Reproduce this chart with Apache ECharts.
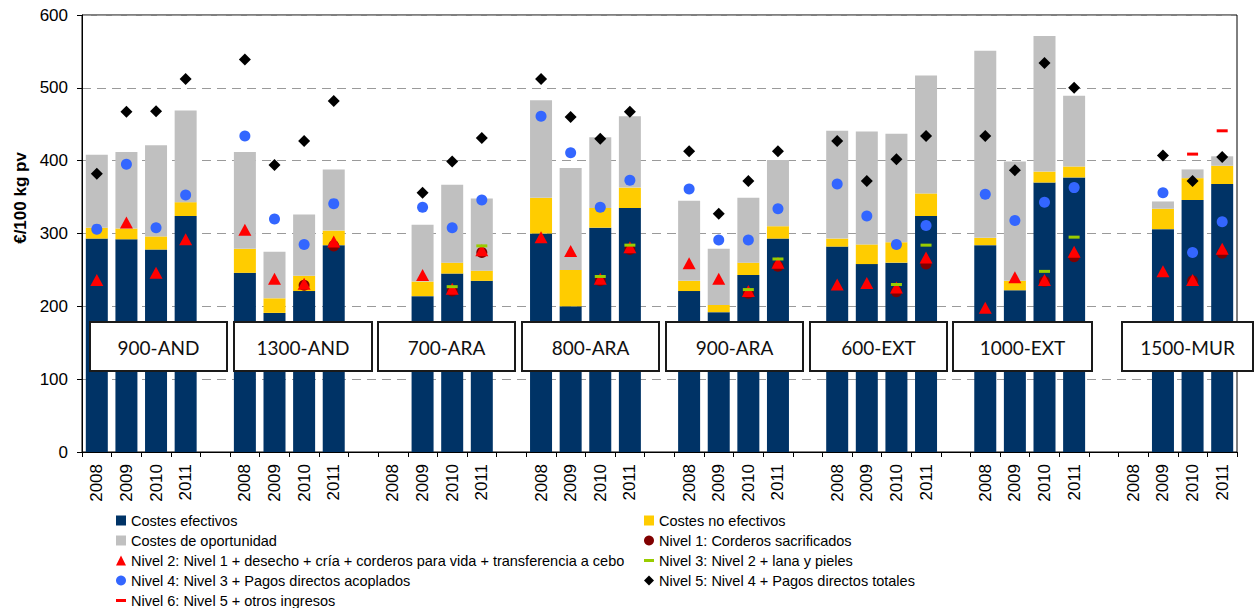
<!DOCTYPE html>
<html>
<head>
<meta charset="utf-8">
<script src="https://cdn.jsdelivr.net/npm/echarts@6/dist/echarts.min.js"></script>
<style>
html, body { margin:0; padding:0; background:#fff; }
#chart { width:1254px; height:608px; }
</style>
</head>
<body>
<div id="chart"></div>
<script>
var groups = ['900-AND','1300-AND','700-ARA','800-ARA','900-ARA','600-EXT','1000-EXT','1500-MUR'];
var years = ['2008','2009','2010','2011'];

// 4 valores por grupo (2008..2011), en el orden de groups
var costesEfectivos   = [293,292,278,324, 246,191,221,284, null,214,245,235, 300,200,308,335, 221,192,243,293, 282,258,260,324, 284,222,370,377, null,306,346,368];
var costesNoEfectivos = [15,15,18,19, 33,20,21,20, null,20,15,14, 49,50,27,28, 14,10,17,17, 11,27,28,31, 10,13,15,15, null,28,30,25];
var costesOportunidad = [100,105,125,126, 133,64,84,84, null,78,107,99, 134,140,97,98, 110,77,89,91, 148,155,149,162, 257,164,186,97, null,10,12,13];

var nivel1 = [null,null,null,null, null,null,229,283, null,null,221,274, null,null,235,278, null,null,218,255, null,null,220,258, null,null,234,268, null,null,235,273];
var nivel2 = [236,315,246,292, 305,238,231,289, null,243,224,277, 295,276,238,281, 259,238,221,260, 230,232,226,267, 198,240,236,275, null,248,236,279];
var nivel3 = [null,null,null,null, null,null,null,null, null,null,227,283, null,null,241,284, null,null,223,265, null,null,230,284, null,null,248,295, null,null,null,null];
var nivel4 = [306,395,308,353, 434,320,285,341, null,336,308,346, 461,411,336,373, 361,291,291,334, 368,324,285,311, 354,318,343,363, null,356,274,316];
var nivel5 = [382,467,468,512, 539,394,427,482, null,356,399,431, 512,460,430,467, 413,327,372,413, 427,372,402,434, 434,387,534,500, null,407,372,405];
var nivel6 = [null,null,null,null, null,null,null,null, null,null,null,null, null,null,null,null, null,null,null,null, null,null,null,null, null,null,null,null, null,null,409,441];

var yTicks = [0, 100, 200, 300, 400, 500, 600];

// categorias con un hueco entre grupos
var categories = [];
groups.forEach(function (g, gi) {
  years.forEach(function (y) { categories.push(y); });
  if (gi < groups.length - 1) categories.push(' ' + gi);
});
function expand(arr) {
  var out = [];
  groups.forEach(function (g, gi) {
    for (var k = 0; k < 4; k++) out.push(arr[gi * 4 + k]);
    if (gi < groups.length - 1) out.push(null);
  });
  return out;
}

var font = "'Liberation Sans', Arial, sans-serif";
var dash = 'path://M0,0L0,0M0,10L0,10M0,3.5L10,3.5L10,6.5L0,6.5Z';

var chart = echarts.init(document.getElementById('chart'), null, { renderer: 'svg' });

function bar(name, data, color) {
  return { name: name, type: 'bar', stack: 'costes', barWidth: 22, data: expand(data),
    itemStyle: { color: color }, emphasis: { disabled: true } };
}
function dots(name, data, symbol, size, color) {
  return { name: name, type: 'scatter', data: expand(data), symbol: symbol, symbolSize: size,
    itemStyle: { color: color, opacity: 1 }, emphasis: { disabled: true }, z: 5 };
}

// cajas con el nombre de cada grupo
var boxLeft = [90, 234, 378, 522, 666, 810, 953, 1122];
var boxW = [137, 138, 137, 137, 137, 137, 139, 131];
var graphics = [];
groups.forEach(function (g, i) {
  graphics.push({ type: 'rect', z: 100, shape: { x: boxLeft[i], y: 322, width: boxW[i], height: 49 },
    style: { fill: '#fff', stroke: '#1a1a1a', lineWidth: 2 } });
  graphics.push({ type: 'text', z: 101, x: boxLeft[i] + boxW[i] / 2, y: 347,
    style: { text: g, align: 'center', verticalAlign: 'middle', fill: '#111', font: "19px Lato, 'Open Sans', sans-serif" } });
});
// titulo del eje Y
graphics.push({ type: 'text', z: 101, x: 20, y: 198, rotation: Math.PI / 2,
  style: { text: '€/100 kg pv', align: 'center', verticalAlign: 'middle', fill: '#000',
    font: "bold 17px 'Liberation Sans', Arial, sans-serif" } });

var legendText = { fontFamily: font, fontSize: 14.5, color: '#000', lineHeight: 14 };

chart.setOption({
  animation: false,
  backgroundColor: '#fff',
  grid: { left: 82, right: 17, top: 15, bottom: 156, show: true, borderColor: '#000', borderWidth: 1 },
  legend: [
    { orient: 'vertical', left: 116, top: 513, height: 200, itemWidth: 10, itemHeight: 10, itemGap: 5, padding: 0,
      selectedMode: false, textStyle: legendText,
      data: [
        { name: 'Costes efectivos', icon: 'rect' },
        { name: 'Costes de oportunidad', icon: 'rect' },
        { name: 'Nivel 2: Nivel 1 + desecho + cría + corderos para vida + transferencia a cebo', icon: 'triangle' },
        { name: 'Nivel 4: Nivel 3 + Pagos directos acoplados', icon: 'circle' },
        { name: 'Nivel 6: Nivel 5 + otros ingresos', icon: dash }
      ] },
    { orient: 'vertical', left: 644, top: 513, height: 200, itemWidth: 10, itemHeight: 10, itemGap: 5, padding: 0,
      selectedMode: false, textStyle: legendText,
      data: [
        { name: 'Costes no efectivos', icon: 'rect' },
        { name: 'Nivel 1: Corderos sacrificados', icon: 'circle' },
        { name: 'Nivel 3: Nivel 2 + lana y pieles', icon: dash },
        { name: 'Nivel 5: Nivel 4 + Pagos directos totales', icon: 'diamond' }
      ] }
  ],
  xAxis: {
    type: 'category',
    data: categories,
    axisLine: { lineStyle: { color: '#000', width: 1 } },
    axisTick: { show: true, interval: 0, length: 5, lineStyle: { color: '#000' } },
    axisLabel: { interval: 0, rotate: 90, margin: 12, fontFamily: font, fontSize: 17, color: '#000',
      formatter: function (v) { return v.charAt(0) === ' ' ? '' : v; } },
    splitLine: { show: false }
  },
  yAxis: {
    type: 'value',
    min: yTicks[0], max: yTicks[yTicks.length - 1], interval: 100,
    axisLine: { show: true, lineStyle: { color: '#000', width: 1 } },
    axisTick: { show: true, length: 5, lineStyle: { color: '#000' } },
    axisLabel: { margin: 14, fontFamily: font, fontSize: 17, color: '#000' },
    splitLine: { show: true, lineStyle: { color: '#9a9a9a', type: [9, 6], width: 1 } }
  },
  graphic: graphics,
  series: [
    bar('Costes efectivos', costesEfectivos, '#003366'),
    bar('Costes no efectivos', costesNoEfectivos, '#ffcc00'),
    bar('Costes de oportunidad', costesOportunidad, '#c0c0c0'),
    dots('Nivel 1: Corderos sacrificados', nivel1, 'circle', 11, '#800000'),
    dots('Nivel 2: Nivel 1 + desecho + cría + corderos para vida + transferencia a cebo', nivel2, 'triangle', [13, 12], '#ff0000'),
    dots('Nivel 3: Nivel 2 + lana y pieles', nivel3, 'rect', [11, 3], '#99cc00'),
    dots('Nivel 4: Nivel 3 + Pagos directos acoplados', nivel4, 'circle', 11, '#3366ff'),
    dots('Nivel 5: Nivel 4 + Pagos directos totales', nivel5, 'diamond', 12, '#000000'),
    dots('Nivel 6: Nivel 5 + otros ingresos', nivel6, 'rect', [11, 3], '#ff0000')
  ]
});
</script>
</body>
</html>
